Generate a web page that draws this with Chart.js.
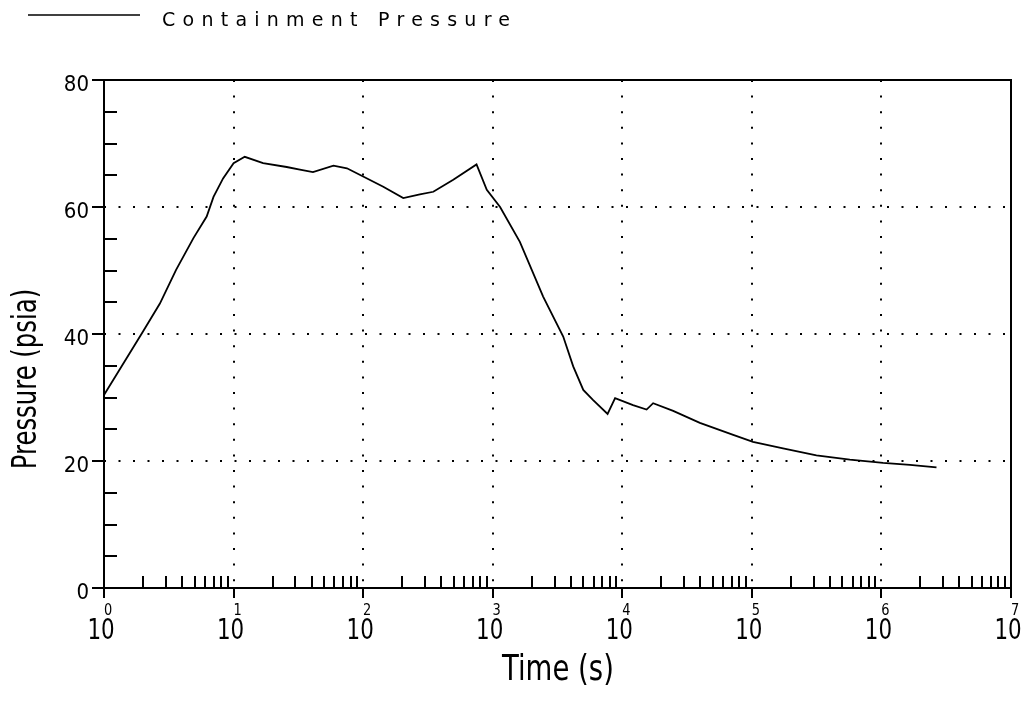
<!DOCTYPE html>
<html>
<head>
<meta charset="utf-8">
<title>Containment Pressure</title>
<script src="https://cdn.jsdelivr.net/npm/chart.js@4.4.1/dist/chart.umd.min.js"></script>
<style>
  html, body { margin: 0; padding: 0; background: #fff; }
  canvas { display: block; }
</style>
</head>
<body>
<canvas id="chart" width="1021" height="702"></canvas>
<script>
// Containment pressure transient (psia) versus time after the event (s)
const timeSeconds = [
  1, 2.0, 2.7, 3.6, 4.9, 6.2, 7.0, 8.3, 10, 12.2, 16.9, 25.7, 32.5, 41, 59, 75,
  100, 143, 204, 274, 348, 496, 750, 900, 1140, 1620, 2450, 3500, 4180, 5000,
  5960, 7700, 8800, 12100, 15400, 17300, 24700, 39700, 71800, 102000, 174000,
  315000, 570000, 1030000, 1660000, 2660000
];
const containmentPressure = [
  30.4, 40.4, 44.8, 50.1, 55.1, 58.5, 61.6, 64.5, 66.9, 67.9, 66.9, 66.3, 65.9, 65.5, 66.5, 66.1,
  64.8, 63.2, 61.4, 62.0, 62.4, 64.3, 66.7, 62.7, 60.0, 54.5, 45.9, 39.6, 34.9, 31.2,
  29.6, 27.4, 29.9, 28.8, 28.1, 29.1, 27.9, 26.0, 24.1, 23.0, 22.0,
  20.9, 20.2, 19.7, 19.4, 19.0
];

// Axis ticks
const pressureTicks = [0, 20, 40, 60, 80];
const pressureMinorStep = 5;
const timeDecadeExponents = [0, 1, 2, 3, 4, 5, 6, 7];

const seriesLabel = 'Containment Pressure';
const xTitle = 'Time (s)';
const yTitle = 'Pressure (psia)';

const NARROW = '"Liberation Sans Narrow", "DejaVu Sans Condensed", "Arial Narrow", sans-serif';
const PLAIN = '"DejaVu Sans", "Liberation Sans", sans-serif';

const timeMin = Math.pow(10, timeDecadeExponents[0]);
const timeMax = Math.pow(10, timeDecadeExponents[timeDecadeExponents.length - 1]);
const pMin = pressureTicks[0];
const pMax = pressureTicks[pressureTicks.length - 1];

// text squeezed along its run, for the tall narrow plotter lettering
function squeezedText(ctx, text, x, y, sx, angle) {
  ctx.save();
  ctx.translate(x, y);
  if (angle) ctx.rotate(angle);
  ctx.scale(sx, 1);
  ctx.fillText(text, 0, 0);
  ctx.restore();
}

// Frame, plotter-style tick marks, superscript decade labels, titles and legend
const plotterFrame = {
  id: 'plotterFrame',
  afterDraw(chart) {
    const { ctx, chartArea: a, scales: { x, y } } = chart;
    ctx.save();
    ctx.strokeStyle = '#000';
    ctx.fillStyle = '#000';
    ctx.lineCap = 'butt';

    // box around the plot
    ctx.lineWidth = 2;
    ctx.strokeRect(a.left, a.top, a.right - a.left, a.bottom - a.top);

    // pressure ticks: majors outward, minors inward
    ctx.beginPath();
    for (let v = pMin; v <= pMax; v += pressureMinorStep) {
      const py = Math.round(y.getPixelForValue(v));
      if (pressureTicks.includes(v)) {
        ctx.moveTo(a.left - 12, py); ctx.lineTo(a.left, py);
      } else {
        ctx.moveTo(a.left, py); ctx.lineTo(a.left + 13, py);
      }
    }
    // time ticks: decades outward, 2..9 inward
    timeDecadeExponents.forEach((e, i) => {
      const px = Math.round(x.getPixelForValue(Math.pow(10, e)));
      ctx.moveTo(px, a.bottom); ctx.lineTo(px, a.bottom + 10);
      if (i < timeDecadeExponents.length - 1) {
        for (let k = 2; k <= 9; k++) {
          const mx = Math.round(x.getPixelForValue(k * Math.pow(10, e)));
          ctx.moveTo(mx, a.bottom); ctx.lineTo(mx, a.bottom - 12);
        }
      }
    });
    ctx.stroke();

    // decade labels 10^n
    ctx.textBaseline = 'middle';
    ctx.textAlign = 'center';
    timeDecadeExponents.forEach((e) => {
      const px = x.getPixelForValue(Math.pow(10, e));
      ctx.font = '28px ' + NARROW;
      squeezedText(ctx, '10', px - 3, a.bottom + 44, 0.85);
      ctx.font = '16px ' + NARROW;
      squeezedText(ctx, String(e), px + 4, a.bottom + 23, 0.9);
    });

    // axis titles
    ctx.font = '36px ' + NARROW;
    squeezedText(ctx, xTitle, 558, 671, 0.85);
    ctx.font = '33px ' + NARROW;
    squeezedText(ctx, yTitle, 27, 379, 0.82, -Math.PI / 2);

    // legend
    ctx.lineWidth = 1.5;
    ctx.beginPath();
    ctx.moveTo(28, 15); ctx.lineTo(140, 15);
    ctx.stroke();
    ctx.font = '19px ' + PLAIN;
    ctx.textAlign = 'left';
    ctx.textBaseline = 'alphabetic';
    const targetWidth = 348;
    const plain = ctx.measureText(seriesLabel).width;
    const spacing = (targetWidth - plain) / (seriesLabel.length - 1);
    if ('letterSpacing' in ctx) {
      ctx.letterSpacing = spacing + 'px';
      ctx.fillText(seriesLabel, 162, 26);
    } else {
      let cx = 162;
      for (const ch of seriesLabel) {
        ctx.fillText(ch, cx, 26);
        cx += ctx.measureText(ch).width + spacing;
      }
    }
    ctx.restore();
  }
};

const edgeOnly = (first, last) => (c) =>
  (c.tick && (c.tick.value === first || c.tick.value === last)) ? 'rgba(0,0,0,0)' : '#000';

new Chart(document.getElementById('chart'), {
  type: 'line',
  data: {
    datasets: [{
      label: seriesLabel,
      data: timeSeconds.map((t, i) => ({ x: t, y: containmentPressure[i] })),
      borderColor: '#000',
      borderWidth: 1.8,
      pointRadius: 0,
      tension: 0,
      fill: false
    }]
  },
  options: {
    responsive: false,
    animation: false,
    devicePixelRatio: 1,
    layout: { padding: { top: 80, right: 10, bottom: 0, left: 0 } },
    plugins: { legend: { display: false }, tooltip: { enabled: false } },
    scales: {
      x: {
        type: 'logarithmic',
        min: timeMin,
        max: timeMax,
        afterBuildTicks: (s) => { s.ticks = timeDecadeExponents.map(e => ({ value: Math.pow(10, e) })); },
        afterFit: (s) => { s.height = 114; },
        ticks: { display: false },
        grid: { color: edgeOnly(timeMin, timeMax), lineWidth: 2, drawTicks: false },
        border: { display: false, dash: [2, 13.6] }
      },
      y: {
        type: 'linear',
        min: pMin,
        max: pMax,
        afterBuildTicks: (s) => { s.ticks = pressureTicks.map(v => ({ value: v })); },
        afterFit: (s) => { s.width = 104; },
        ticks: {
          color: '#000',
          padding: 15,
          labelOffset: 5,
          font: { family: NARROW, size: 22 }
        },
        grid: { color: edgeOnly(pMin, pMax), lineWidth: 2, drawTicks: false },
        border: { display: false, dash: [2, 12.5] }
      }
    }
  },
  plugins: [plotterFrame]
});
</script>
</body>
</html>
